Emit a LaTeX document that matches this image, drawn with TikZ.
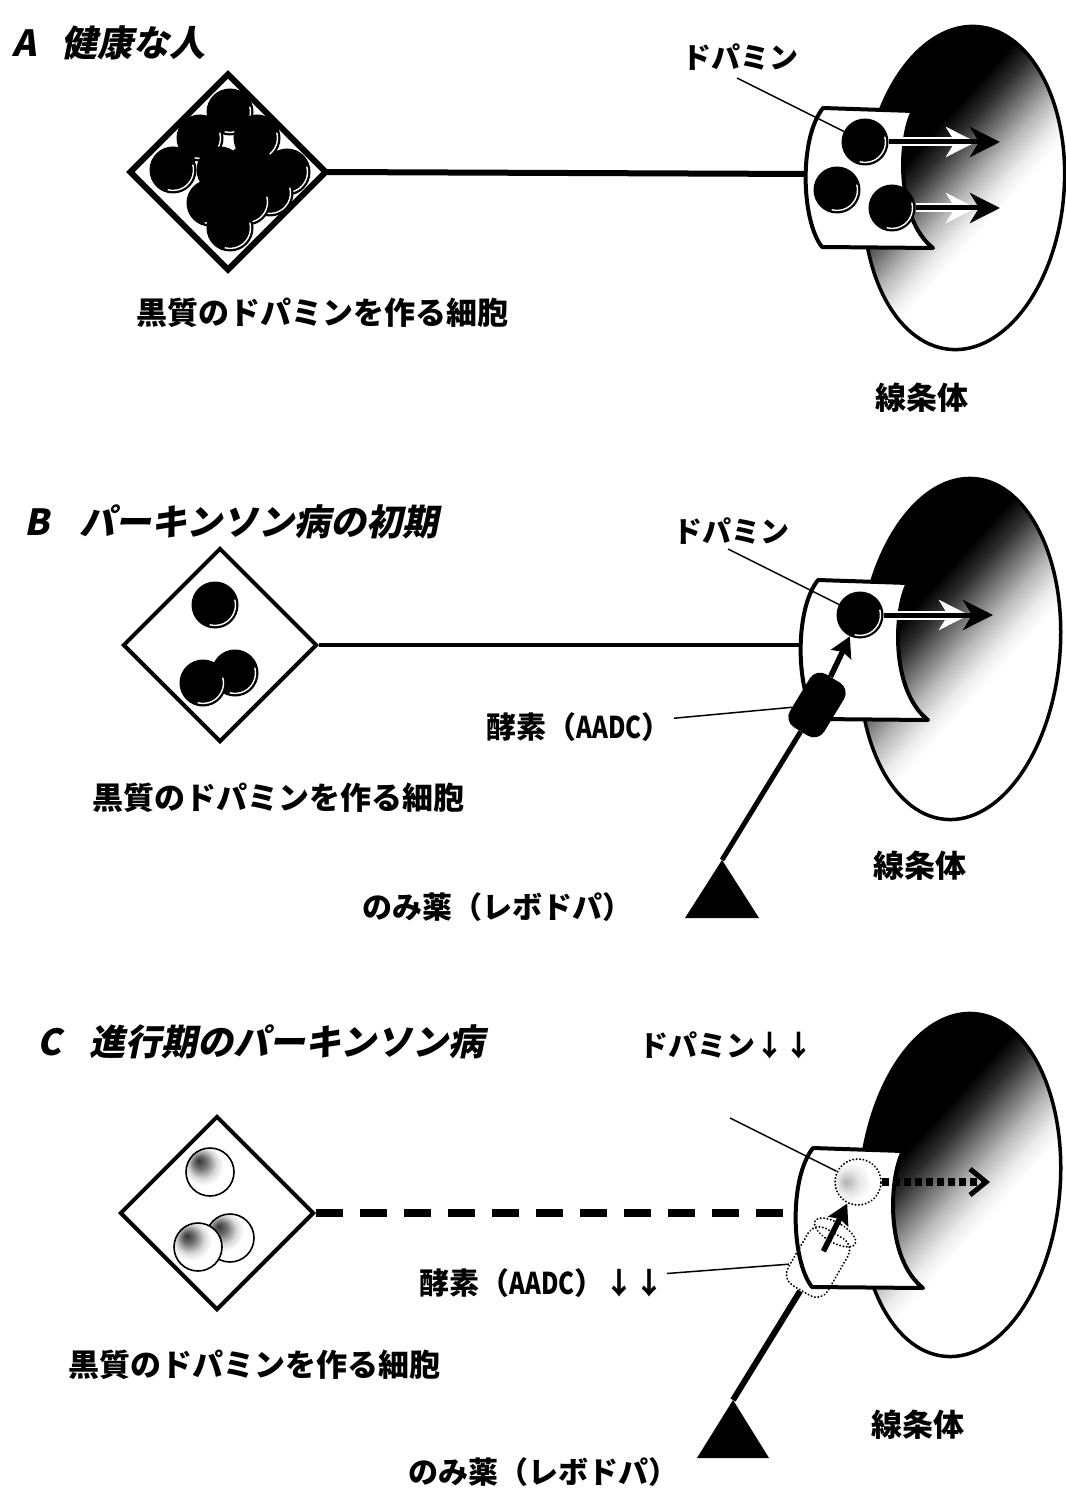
\documentclass[tikz,border=0pt]{standalone}
\usepackage{fontspec}
\setmainfont{Noto Sans CJK JP}
\newfontfamily\jpslant{Noto Sans CJK JP}[FakeSlant=0.2]
\usetikzlibrary{arrows.meta,shapes.geometric,calc}

% striatum: black upper left fading to white lower right
\pgfdeclarehorizontalshading{striashade}{100bp}{color(0bp)=(black); color(39bp)=(black); color(43bp)=(black!82); color(47bp)=(black!55); color(51bp)=(black!28); color(55bp)=(black!8); color(58bp)=(white); color(100bp)=(white)}
% pale vesicle with a dark upper-left crescent
\pgfdeclareradialshading{fadedcell}{\pgfpoint{-12bp}{12bp}}{color(0bp)=(black!80); color(7bp)=(black!55); color(15bp)=(black!15); color(21bp)=(white); color(50bp)=(white)}
% almost empty vesicle
\pgfdeclareradialshading{faintdot}{\pgfpoint{-14bp}{0bp}}{color(0bp)=(black!30); color(12bp)=(black!10); color(22bp)=(white); color(50bp)=(white)}

\tikzset{
  soma/.style={diamond, aspect=1, draw, line width=4pt, fill=white,
    minimum width=194pt, minimum height=194pt, inner sep=0pt},
  striatum/.style={ellipse, draw, line width=3.5pt, minimum width=200pt,
    shading=striashade, shading angle=-42, rotate=-5, inner sep=0pt},
  bves/.style={circle, fill=black, minimum size=47pt, inner sep=0pt,
    path picture={\draw[white, line width=1.4pt]
      (path picture bounding box.center) ++(-15:20.5)
      arc[start angle=-15, end angle=105, radius=20.5];}},
  fves/.style={circle, draw, line width=1.6pt, minimum size=48pt, inner sep=0pt,
    shading=fadedcell},
  dotline/.style={line width=2.2pt, dash pattern=on 0.01pt off 3.4pt, line cap=round},
  lostves/.style={circle, draw, dotline, minimum size=46pt, inner sep=0pt,
    shading=faintdot},
  enzyme/.style={rectangle, rounded corners=12pt, fill=black,
    minimum width=62pt, minimum height=40pt, inner sep=0pt},
  lostenzyme/.style={rectangle, rounded corners=13pt, draw, dotline,
    minimum width=66pt, minimum height=46pt, inner sep=0pt},
  lostcap/.style={ellipse, draw, dotline, minimum width=20pt, minimum height=46pt, inner sep=0pt},
  leader/.style={line width=1.5pt},
  release/.style={line width=5pt, -{Stealth[length=30pt,width=30pt,inset=9pt]},
    preaction={draw=white, line width=9pt, shorten >=24pt}},
  weakrelease/.style={line width=8pt, dash pattern=on 7pt off 4pt,
    -{Straight Barb[length=16pt,width=26pt,line width=5pt]}},
  uparrow/.style={line width=5.5pt, -{Stealth[length=20pt,width=22pt,inset=3pt]}},
  terminal/.pic={\draw[line width=4pt, fill=white, line join=round]
    (0,0) -- (90,3) .. controls (76,30) and (72,110) .. (110,140)
    -- (-1,139) .. controls (-22,112) and (-24,30) .. (0,0) -- cycle;},
  title/.style={font=\jpslant\bfseries\fontsize{36pt}{40pt}\selectfont, anchor=west, inner sep=0pt},
  lab/.style={font=\bfseries\fontsize{30pt}{34pt}\selectfont, inner sep=2pt},
  labsm/.style={font=\bfseries\fontsize{29pt}{33pt}\selectfont, inner sep=2pt},
  labbig/.style={font=\bfseries\fontsize{31pt}{35pt}\selectfont, inner sep=2pt},
}
\newcommand\aadc{\scalebox{0.8}[1]{AADC}}

\begin{document}
\begin{tikzpicture}[x=1pt,y=-1pt]
\useasboundingbox (0,0) rectangle (1065,1495);
\fill[white] (0,0) rectangle (1065,1495);

% ---------------- A: healthy ----------------
\node[title] (titA) at (12,43) {A\hspace{26pt}健康な人};
\node[striatum, minimum height=324pt] (striA) at (964,188) {};
\node[soma] (somaA) at (228,172) {};
\coordinate (endA) at (808,174);
\draw[line width=6pt] (somaA.east) -- (endA);
\begin{scope}
  \clip (somaA.north) -- (somaA.east) -- (somaA.south) -- (somaA.west) -- cycle;
  \foreach \p [count=\i] in {(230,112),(200,138),(257,138),(173,170),(220,170),
      (250,167),(287,172),(270,193),(210,203),(247,202),(230,228)}
    \node[bves] (sa\i) at \p {};
\end{scope}
\draw[line width=4pt, line join=miter]
  (somaA.north) -- (somaA.east) -- (somaA.south) -- (somaA.west) -- cycle;
\pic at (823,108) {terminal};
\node[bves] (ta1) at (865,142) {};
\node[bves] (ta2) at (837,190) {};
\node[bves] (ta3) at (892,208) {};
\coordinate (tipA1) at (1000,142);
\coordinate (tipA2) at (1000,208);
\draw[release] (ta1) -- (tipA1);
\draw[release] (ta3) -- (tipA2);
\node[labsm] (dopaLabA) at (740,57) {ドパミン};
\coordinate (ldA) at (737,78);
\draw[leader] (ldA) -- (ta1);
\node[labbig] (cellLabA) at (322,313) {黒質のドパミンを作る細胞};
\node[labbig] (striLabA) at (922,398) {線条体};

% ---------------- B: early Parkinson's disease ----------------
\node[title] (titB) at (24,522) {B\hspace{30pt}パーキンソン病の初期};
\node[striatum, minimum height=342pt] (striB) at (960,649) {};
\node[soma] (somaB) at (220,645) {};
\coordinate (endB) at (805,645);
\draw[line width=4.5pt] (somaB.east) -- (endB);
\node[bves] (sb1) at (235,673) {};
\node[bves] (sb2) at (203,683) {};
\node[bves] (sb3) at (215,605) {};
\pic at (818,580) {terminal};
\node[bves] (vesB) at (860,615) {};
\coordinate (tipB) at (993,615);
\draw[release] (vesB) -- (tipB);
\coordinate (pillB) at (722,860);
\fill (pillB) -- ++(37,58) -- ++(-74,0) -- cycle;
\node[enzyme, rotate=58.7] (enzB) at (817,705) {};
\draw[line width=5pt] (pillB) -- (enzB);
\draw[uparrow] (enzB) -- (vesB);
\node[labsm] (dopaLabB) at (731,531) {ドパミン};
\coordinate (ldB) at (728,549);
\draw[leader] (ldB) -- (vesB);
\node[lab] (enzLabB) at (579,727) {酵素（\aadc）};
\draw[leader] (enzLabB) -- (enzB);
\node[labbig] (cellLabB) at (278,798) {黒質のドパミンを作る細胞};
\node[labbig] (striLabB) at (920,866) {線条体};
\node[lab] (pillLabB) at (497,907) {のみ薬（レボドパ）};

% ---------------- C: advanced Parkinson's disease ----------------
\node[title] (titC) at (37,1042) {C\hspace{28pt}進行期のパーキンソン病};
\node[striatum, minimum height=344pt] (striC) at (960,1185) {};
\node[soma] (somaC) at (217,1213) {};
\coordinate (endC) at (802,1213);
\draw[line width=8pt, dash pattern=on 27pt off 17pt] (somaC.east) -- (endC);
\node[fves] (sc1) at (230,1238) {};
\node[fves] (sc2) at (198,1247) {};
\node[fves] (sc3) at (210,1172) {};
\pic at (813,1148) {terminal};
\node[lostves] (vesC) at (858,1182) {};
\coordinate (tipC) at (990,1182);
\draw[weakrelease] (vesC) -- (tipC);
\coordinate (pillC) at (733,1400);
\fill (pillC) -- ++(36,58) -- ++(-72,0) -- cycle;
\node[lostenzyme, rotate=60] (enzC) at (818,1262) {};
\node[lostcap, rotate=60] (enzCcap) at (enzC.east) {};
\draw[line width=6pt] (pillC) -- (enzC);
\draw[uparrow, shorten <=12pt] (enzC.center) -- (vesC);
\node[labsm] (dopaLabC) at (726,1045) {ドパミン↓↓};
\coordinate (ldC) at (730,1118);
\draw[leader] (ldC) -- (vesC);
\node[lab] (enzLabC) at (542,1283) {酵素（\aadc）↓↓};
\draw[leader] (enzLabC) -- (enzC);
\node[labbig] (cellLabC) at (254,1365) {黒質のドパミンを作る細胞};
\node[labbig] (striLabC) at (918,1425) {線条体};
\node[lab] (pillLabC) at (543,1472) {のみ薬（レボドパ）};
\end{tikzpicture}
\end{document}
